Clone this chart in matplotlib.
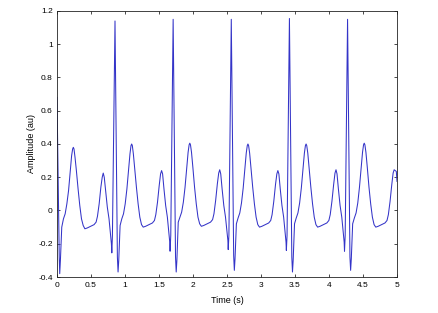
import matplotlib
matplotlib.use("Agg")
import matplotlib.pyplot as plt
import numpy as np

# ---- data (time in s, amplitude in au) ----
beat0_t = [0, 0.033, 0.04, 0.05, 0.07, 0.095, 0.12, 0.145, 0.17, 0.195, 0.215, 0.23, 0.24, 0.25,
           0.265, 0.285, 0.31, 0.335, 0.36, 0.385, 0.41, 0.445, 0.495, 0.545, 0.575, 0.595, 0.62,
           0.645, 0.665, 0.68, 0.695, 0.715, 0.74, 0.765, 0.80, 0.806, 0.815]
beat0_v = [0.68, -0.28, -0.38, -0.30, -0.10, -0.05, -0.02, 0.04, 0.12, 0.24, 0.33, 0.37, 0.38, 0.37,
           0.32, 0.24, 0.13, 0.03, -0.05, -0.09, -0.11, -0.105, -0.095, -0.085, -0.07, -0.035, 0.04,
           0.14, 0.20, 0.225, 0.20, 0.12, 0.02, -0.05, -0.20, -0.255, -0.15]

beat1_t = [0.853, 0.888, 0.898, 0.908, 0.928, 0.953, 0.978, 1.003, 1.028, 1.053, 1.073, 1.088, 1.098,
           1.108, 1.123, 1.143, 1.168, 1.193, 1.218, 1.243, 1.268, 1.303, 1.353, 1.403, 1.433, 1.453,
           1.478, 1.503, 1.523, 1.538, 1.553, 1.573, 1.598, 1.623, 1.658, 1.663, 1.673]
beat1_v = [1.14, -0.28, -0.37, -0.30, -0.09, -0.05, -0.02, 0.04, 0.13, 0.25, 0.34, 0.39, 0.40,
           0.39, 0.34, 0.25, 0.14, 0.04, -0.04, -0.085, -0.10, -0.095, -0.085, -0.075, -0.06, -0.025,
           0.05, 0.15, 0.22, 0.24, 0.22, 0.13, 0.03, -0.04, -0.19, -0.245, -0.15]

beat2_t = [1.708, 1.743, 1.753, 1.763, 1.783, 1.808, 1.833, 1.858, 1.883, 1.908, 1.928, 1.943, 1.953,
           1.963, 1.978, 1.998, 2.023, 2.048, 2.073, 2.098, 2.123, 2.158, 2.208, 2.258, 2.288, 2.308,
           2.333, 2.358, 2.378, 2.393, 2.408, 2.428, 2.453, 2.478, 2.513, 2.518, 2.528]
beat2_v = [1.15, -0.28, -0.37, -0.30, -0.07, -0.04, -0.01, 0.05, 0.14, 0.26, 0.35, 0.395, 0.405,
           0.395, 0.35, 0.26, 0.14, 0.04, -0.04, -0.08, -0.095, -0.09, -0.08, -0.07, -0.055, -0.02,
           0.06, 0.16, 0.225, 0.245, 0.22, 0.13, 0.03, -0.04, -0.18, -0.235, -0.15]

beat3_t = [2.563, 2.598, 2.608, 2.618, 2.638, 2.663, 2.688, 2.713, 2.738, 2.763, 2.783, 2.798, 2.808,
           2.818, 2.833, 2.853, 2.878, 2.903, 2.928, 2.953, 2.978, 3.013, 3.063, 3.113, 3.143, 3.163,
           3.188, 3.213, 3.233, 3.248, 3.263, 3.283, 3.308, 3.333, 3.368, 3.373, 3.383]
beat3_v = [1.15, -0.27, -0.36, -0.29, -0.08, -0.045, -0.015, 0.045, 0.135, 0.255, 0.345, 0.39, 0.40,
           0.39, 0.345, 0.255, 0.14, 0.04, -0.04, -0.085, -0.10, -0.095, -0.085, -0.075, -0.06, -0.025,
           0.055, 0.155, 0.22, 0.24, 0.22, 0.13, 0.03, -0.04, -0.19, -0.24, -0.15]

beat4_t = [3.418, 3.453, 3.463, 3.473, 3.493, 3.518, 3.543, 3.568, 3.593, 3.618, 3.638, 3.653, 3.663,
           3.673, 3.688, 3.708, 3.733, 3.758, 3.783, 3.808, 3.833, 3.868, 3.918, 3.968, 3.998, 4.018,
           4.043, 4.068, 4.088, 4.103, 4.118, 4.138, 4.163, 4.188, 4.223, 4.228, 4.238]
beat4_v = [1.155, -0.28, -0.37, -0.30, -0.08, -0.045, -0.015, 0.045, 0.135, 0.255, 0.345, 0.39, 0.40,
           0.39, 0.345, 0.255, 0.14, 0.04, -0.04, -0.085, -0.10, -0.095, -0.085, -0.075, -0.06, -0.025,
           0.055, 0.155, 0.225, 0.245, 0.22, 0.13, 0.03, -0.04, -0.19, -0.245, -0.15]

beat5_t = [4.273, 4.308, 4.318, 4.328, 4.348, 4.373, 4.398, 4.423, 4.448, 4.473, 4.493, 4.508, 4.518,
           4.528, 4.543, 4.563, 4.588, 4.613, 4.638, 4.663, 4.688, 4.723, 4.773, 4.823, 4.853, 4.873,
           4.898, 4.923, 4.943, 4.958, 4.99, 5.0]
beat5_v = [1.15, -0.28, -0.36, -0.29, -0.08, -0.045, -0.015, 0.045, 0.14, 0.26, 0.35, 0.395, 0.405,
           0.395, 0.35, 0.26, 0.14, 0.04, -0.04, -0.085, -0.10, -0.095, -0.085, -0.075, -0.06, -0.025,
           0.055, 0.155, 0.225, 0.245, 0.235, 0.175]

x_ticks = [0, 0.5, 1, 1.5, 2, 2.5, 3, 3.5, 4, 4.5, 5]
x_tick_labels = ["0", "0.5", "1", "1.5", "2", "2.5", "3", "3.5", "4", "4.5", "5"]
y_ticks = [-0.4, -0.2, 0, 0.2, 0.4, 0.6, 0.8, 1, 1.2]
y_tick_labels = ["-0.4", "-0.2", "0", "0.2", "0.4", "0.6", "0.8", "1", "1.2"]

time = np.array(beat0_t + beat1_t + beat2_t + beat3_t + beat4_t + beat5_t)
amp = np.array(beat0_v + beat1_v + beat2_v + beat3_v + beat4_v + beat5_v)

plt.rcParams['font.family'] = ['Liberation Sans', 'DejaVu Sans']

fig = plt.figure(figsize=(4.38, 3.13), dpi=100, facecolor='white')
ax = fig.add_axes([57 / 438, 1 - 277 / 313, 340 / 438, 266 / 313])
ax.plot(time, amp, color='#3434c8', lw=0.75)

ax.set_xlim(0, 5)
ax.set_ylim(-0.4, 1.2)
ax.set_xticks(x_ticks)
ax.set_xticklabels(x_tick_labels)
ax.set_yticks(y_ticks)
ax.set_yticklabels(y_tick_labels)
ax.tick_params(direction='in', length=2.5, width=0.5, labelsize=6, top=True, right=True,
               colors='black')
ax.tick_params(axis='x', pad=3.5)
ax.tick_params(axis='y', pad=3)
for s in ax.spines.values():
    s.set_linewidth(0.6)
    s.set_color('#222222')

ax.set_xlabel('Time (s)', fontsize=6.5, labelpad=5)
ax.set_ylabel('Amplitude (au)', fontsize=6.5, labelpad=2)

fig.savefig('out.png', dpi=100, facecolor='white')
